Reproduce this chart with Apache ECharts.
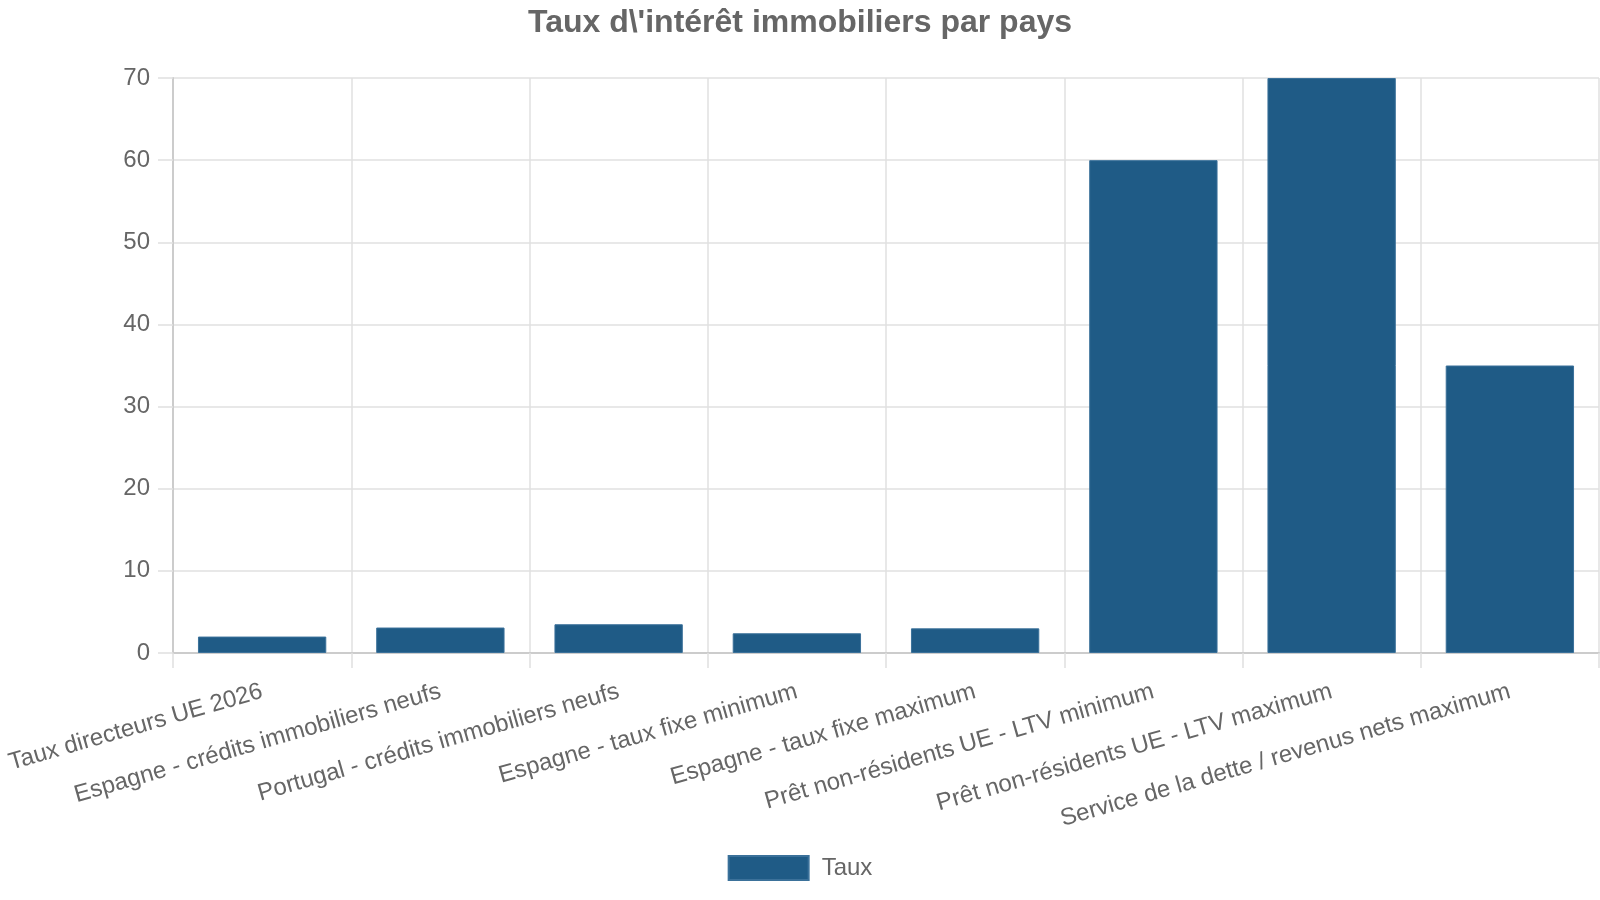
<!DOCTYPE html>
<html>
<head>
<meta charset="utf-8">
<script src="https://cdn.jsdelivr.net/npm/echarts@6/dist/echarts.min.js"></script>
<style>
  html, body { margin: 0; padding: 0; background: #fff; }
  #main { width: 1600px; height: 900px; }
</style>
</head>
<body>
<div id="main"></div>
<script>
const categories = [
    'Taux directeurs UE 2026',
    'Espagne - crédits immobiliers neufs',
    'Portugal - crédits immobiliers neufs',
    'Espagne - taux fixe minimum',
    'Espagne - taux fixe maximum',
    'Prêt non-résidents UE - LTV minimum',
    'Prêt non-résidents UE - LTV maximum',
    'Service de la dette / revenus nets maximum'
];
const tauxValues = [2, 3.1, 3.5, 2.4, 3, 60, 70, 35];
const yTicks = { min: 0, max: 70, interval: 10 };

const FONT = 'Liberation Sans, Arial, sans-serif';
const TEXT = '#666';

var myChart = echarts.init(document.getElementById('main'));
myChart.setOption({
    animation: false,
    textStyle: { fontFamily: FONT },
    title: {
        text: 'Taux d\\\'intérêt immobiliers par pays',
        left: 'center',
        top: 2,
        textStyle: { fontFamily: FONT, fontSize: 32, fontWeight: 'bold', color: TEXT }
    },
    legend: {
        bottom: 14,
        left: 'center',
        itemWidth: 80,
        itemHeight: 24,
        icon: 'rect',
        textStyle: { fontFamily: FONT, fontSize: 24, color: TEXT, padding: [0, 0, 0, 8] },
        data: ['Taux']
    },
    grid: { left: 173, right: 1, top: 78, bottom: 247, containLabel: false },
    xAxis: {
        type: 'category',
        data: categories,
        axisLine: { lineStyle: { color: '#ccc', width: 2 } },
        axisTick: { show: true, length: 15, interval: 0, lineStyle: { color: '#e0e0e0', width: 1.5 } },
        splitLine: { show: true, interval: 0, lineStyle: { color: '#e0e0e0', width: 1.5 } },
        axisLabel: {
            interval: 0,
            rotate: 16,
            margin: 38,
            fontFamily: FONT,
            fontSize: 24,
            color: TEXT
        }
    },
    yAxis: {
        type: 'value',
        min: yTicks.min,
        max: yTicks.max,
        interval: yTicks.interval,
        axisLine: { show: true, lineStyle: { color: '#ccc', width: 2 } },
        axisTick: { show: true, length: 15, lineStyle: { color: '#e0e0e0', width: 1.5 } },
        splitLine: { lineStyle: { color: '#e0e0e0', width: 1.5 } },
        axisLabel: { margin: 23, fontFamily: FONT, fontSize: 24, color: TEXT }
    },
    series: [{
        name: 'Taux',
        type: 'bar',
        data: tauxValues,
        barCategoryGap: '28%',
        itemStyle: { color: '#1f5b86', borderColor: '#3b719a', borderWidth: 1 }
    }]
});
</script>
</body>
</html>
